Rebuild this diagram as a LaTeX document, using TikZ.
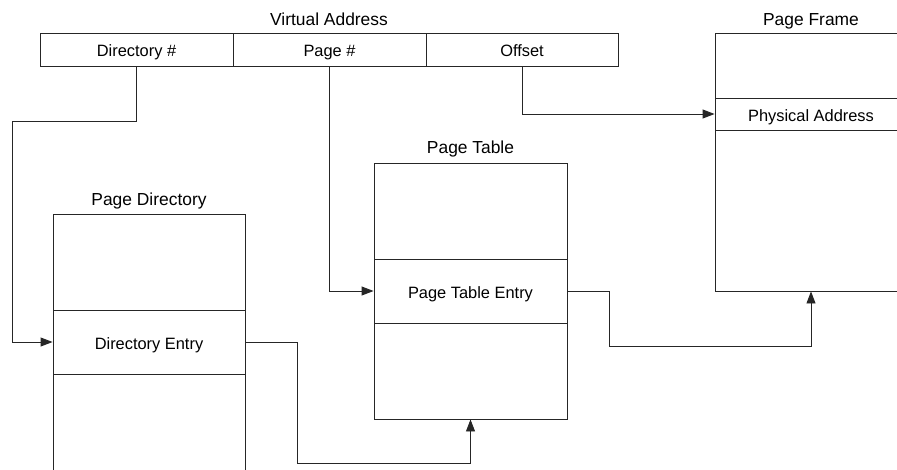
\documentclass[tikz,border=0pt]{standalone}
\usepackage{fontspec}
\setmainfont{Liberation Sans}
\usetikzlibrary{arrows.meta}
\begin{document}
\begin{tikzpicture}[x=1pt,y=-1pt,
  cell/.style={draw=black!85,line width=0.9pt,rectangle,inner sep=0pt,minimum width=192pt,text height=14pt,text depth=0pt,font=\fontsize{16.4}{19}\selectfont},
  lbl/.style={inner sep=0pt,anchor=base,font=\fontsize{17.4}{20}\selectfont},
  conn/.style={draw=black!85,line width=0.9pt},
  arr/.style={conn,-{Triangle[length=12pt,width=9pt]}}]
\useasboundingbox (0,0) rectangle (897,469);
\clip (0,0) rectangle (897,469);
% Virtual address
\node[lbl] (valbl) at (329,25) {Virtual Address};
\node[cell,minimum width=193pt,minimum height=33pt] (dir) at (136.5,49.5) {Directory \#};
\node[cell,minimum width=193pt,minimum height=33pt] (pg) at (329.5,49.5) {Page \#};
\node[cell,minimum width=192pt,minimum height=33pt] (off) at (522,49.5) {Offset};
% Page frame
\node[lbl] (pflbl) at (811,25) {Page Frame};
\node[cell,minimum height=65pt] (pft) at (811,65.5) {};
\node[cell,minimum height=32pt] (pfe) at (811,114) {Physical Address};
\node[cell,minimum height=161pt] (pfb) at (811,210.5) {};
% Page directory
\node[lbl] (pdlbl) at (149,205) {Page Directory};
\node[cell,minimum height=96pt] (pdt) at (149,262) {};
\node[cell,minimum height=64pt] (pde) at (149,342) {Directory Entry};
\node[cell,minimum height=110pt] (pdb) at (149,429) {};
% Page table
\node[lbl] (ptlbl) at (470.5,153.5) {Page Table};
\node[cell,minimum width=193pt,minimum height=96pt] (ptt) at (470.5,211) {};
\node[cell,minimum width=193pt,minimum height=64pt] (pte) at (470.5,291) {Page Table Entry};
\node[cell,minimum width=193pt,minimum height=96pt] (ptb) at (470.5,371) {};
% connectors
\coordinate (c1) at (12,121);
\coordinate (c2) at (297,463);
\coordinate (c3) at (609,346);
\draw[arr] (off.south) |- (pfe.west);
\draw[arr] (dir.south) |- (c1) |- (pde.west);
\draw[arr] (pg.south) |- (pte.west);
\draw[arr] (pde.east) -| (c2) -| (ptb.south);
\draw[arr] (pte.east) -| (c3) -| (pfb.south);
\end{tikzpicture}
\end{document}
